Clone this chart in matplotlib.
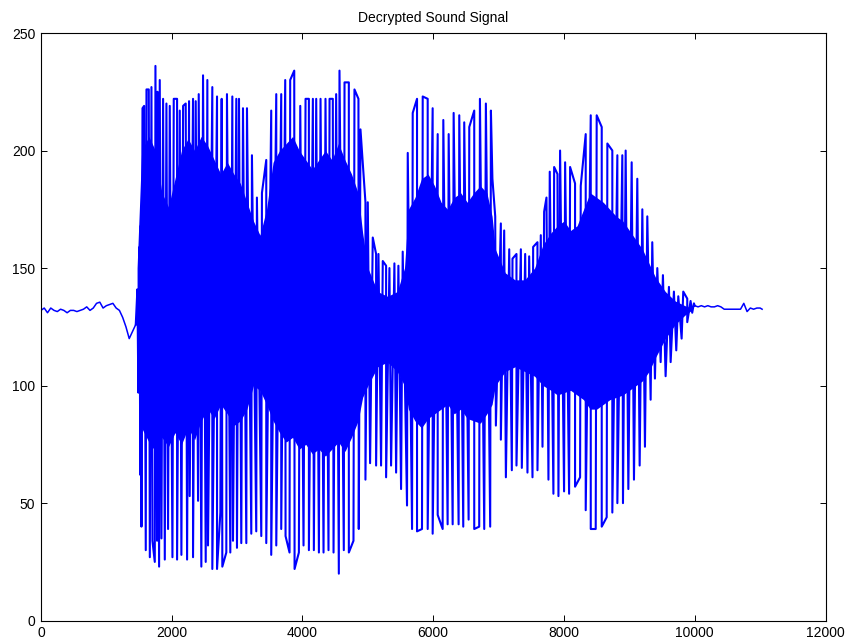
import numpy as np
import matplotlib
matplotlib.use("Agg")
import matplotlib.pyplot as plt

# quiet parts before and after the speech (sample, value)
lead_x = [0, 50, 100, 150, 200, 250, 300, 350, 400, 450, 500, 550, 600, 650, 700,
          750, 800, 850, 900, 950, 1000, 1050, 1100, 1150, 1200, 1250, 1300, 1350,
          1400, 1450]
lead_v = [132, 133, 131, 133, 132, 131.5, 132.5, 132, 131, 132, 132, 131.5, 132,
          132.5, 133.5, 132, 133, 135, 135.5, 133, 134, 134.5, 135, 133, 132, 129,
          125, 120, 123, 126]
tail_x = [10000, 10050, 10100, 10150, 10200, 10250, 10300, 10350, 10400, 10450,
          10500, 10550, 10600, 10650, 10700, 10750, 10800, 10850, 10900, 10950,
          11000, 11030]
tail_v = [134, 133.5, 134, 133.5, 134, 133.5, 133.5, 134, 133.5, 132.5, 132.5,
          132.5, 132.5, 132.5, 132.5, 135, 131.5, 133, 132.5, 133, 133, 132.5]

# upper peaks of each pitch period (sample, value)
top_x = [1475, 1505, 1525, 1553, 1578, 1614, 1649, 1690, 1751, 1782, 1817, 1868,
         1919, 1970, 2031, 2082, 2123, 2174, 2214, 2265, 2326, 2367, 2413, 2479,
         2545, 2621, 2693, 2764, 2845, 2927, 2988, 3029, 3090, 3151, 3227, 3303,
         3380, 3446, 3522, 3599, 3675, 3736, 3812, 3874, 3966, 4047, 4098, 4159,
         4210, 4276, 4352, 4414, 4464, 4515, 4566, 4643, 4709, 4795, 4856, 4887,
         4963, 4999, 5075, 5126, 5162, 5228, 5279, 5330, 5406, 5467, 5533, 5610,
         5686, 5752, 5839, 5915, 5991, 6068, 6154, 6236, 6312, 6398, 6474, 6551,
         6627, 6714, 6805, 6882, 6905, 6948, 7034, 7085, 7162, 7212, 7273, 7340,
         7406, 7467, 7528, 7594, 7645, 7696, 7732, 7782, 7849, 7900, 7940, 8017,
         8093, 8169, 8256, 8332, 8409, 8500, 8577, 8663, 8739, 8816, 8892, 8943,
         9035, 9121, 9198, 9274, 9350, 9427, 9513, 9605, 9681, 9748, 9824, 9885,
         9936, 9987]
top_v = [141, 159, 168, 218, 219, 226, 226, 227, 236, 225, 230, 222,
         220, 219, 222, 222, 217, 219, 220, 221, 222, 221, 224, 232,
         230, 227, 223, 222, 224, 223, 222, 222, 218, 218, 198, 180,
         182, 196, 217, 224, 224, 230, 230, 234, 219, 222, 222, 222,
         222, 222, 222, 222, 222, 224, 234, 229, 229, 226, 222, 209,
         178, 178, 163, 156, 156, 153, 151, 150, 152, 151, 157, 199,
         216, 222, 223, 222, 218, 207, 213, 207, 216, 215, 212, 210,
         217, 222, 220, 217, 188, 172, 169, 166, 158, 154, 156, 158,
         156, 155, 159, 161, 164, 174, 180, 191, 193, 190, 200, 195,
         193, 186, 185, 207, 215, 215, 210, 203, 200, 198, 198, 200,
         195, 188, 175, 172, 161, 150, 147, 142, 140, 138, 140, 137,
         136, 135]

# lower peaks of each pitch period (sample, value)
bot_x = [1490, 1520, 1537, 1603, 1665, 1705, 1741, 1776, 1807, 1843, 1894, 1944,
         2011, 2082, 2148, 2235, 2275, 2326, 2403, 2453, 2520, 2555, 2621, 2693,
         2744, 2774, 2835, 2896, 2937, 2998, 3064, 3141, 3217, 3293, 3370, 3446,
         3522, 3599, 3675, 3741, 3802, 3879, 3945, 4016, 4098, 4174, 4251, 4322,
         4398, 4475, 4556, 4632, 4709, 4780, 4861, 4963, 5034, 5126, 5202, 5279,
         5355, 5432, 5508, 5599, 5676, 5752, 5828, 5915, 5991, 6068, 6144, 6220,
         6297, 6388, 6459, 6541, 6627, 6703, 6780, 6871, 6958, 7034, 7111, 7202,
         7273, 7355, 7441, 7518, 7594, 7671, 7762, 7838, 7915, 8001, 8078, 8169,
         8246, 8332, 8409, 8485, 8577, 8653, 8739, 8816, 8902, 8984, 9070, 9157,
         9238, 9325, 9391, 9478, 9554, 9631, 9717, 9799, 9885, 9961]
bot_v = [97, 62, 40, 30, 27, 34, 25, 34, 23, 35, 26, 39,
         27, 26, 28, 26, 53, 27, 51, 23, 25, 32, 22, 22,
         46, 23, 29, 29, 34, 31, 33, 33, 37, 38, 36, 33,
         28, 32, 39, 36, 29, 22, 29, 32, 30, 30, 29, 29,
         30, 29, 20, 30, 29, 34, 39, 60, 67, 66, 66, 61,
         66, 63, 56, 49, 39, 38, 39, 39, 37, 45, 39, 41,
         41, 41, 40, 43, 39, 40, 39, 40, 83, 77, 61, 64,
         66, 65, 63, 61, 64, 74, 60, 54, 53, 55, 54, 57,
         61, 47, 39, 39, 40, 44, 46, 50, 50, 56, 60, 66,
         74, 94, 103, 110, 104, 110, 115, 120, 127, 131]

# edges of the dense middle band of the voiced parts (sample, upper, lower)
band_x = [1470, 1540, 1650, 1750, 1850, 1950, 2050, 2150, 2250, 2350, 2450, 2550,
          2650, 2750, 2850, 2950, 3050, 3150, 3250, 3350, 3450, 3550, 3650, 3750,
          3850, 3950, 4050, 4150, 4250, 4350, 4450, 4550, 4650, 4750, 4850, 4920,
          5000, 5150, 5300, 5450, 5560, 5620, 5720, 5820, 5920, 6020, 6120, 6220,
          6320, 6420, 6520, 6620, 6720, 6820, 6900, 6950, 7100, 7250, 7400, 7550,
          7680, 7800, 7900, 8000, 8100, 8200, 8300, 8400, 8500, 8600, 8700, 8800,
          8900, 9000, 9100, 9200, 9300, 9400, 9550, 9700, 9850, 9950]
band_hi = [150, 200, 206, 200, 182, 176, 188, 200, 205, 200, 206, 202,
           196, 190, 195, 190, 186, 178, 170, 164, 175, 195, 200, 203,
           206, 200, 196, 192, 196, 200, 196, 203, 196, 190, 182, 165,
           150, 140, 138, 140, 150, 175, 180, 188, 190, 185, 178, 175,
           180, 182, 178, 182, 185, 182, 172, 158, 148, 145, 145, 150,
           160, 165, 168, 170, 166, 168, 175, 182, 180, 178, 175, 172,
           170, 166, 162, 158, 152, 146, 140, 136, 134, 133]
band_lo = [112, 82, 76, 72, 78, 74, 80, 75, 82, 77, 85, 90,
           86, 92, 88, 83, 85, 90, 100, 98, 92, 85, 80, 76,
           78, 73, 75, 71, 73, 70, 73, 76, 72, 78, 85, 95,
           100, 108, 110, 106, 100, 90, 85, 82, 86, 88, 90, 92,
           88, 90, 86, 85, 84, 88, 92, 100, 106, 108, 106, 104,
           100, 98, 96, 97, 98, 96, 94, 90, 90, 92, 94, 95,
           96, 98, 100, 102, 106, 112, 120, 126, 130, 132]


def build_voiced():
    pk_x = np.array(top_x + bot_x, dtype=float)
    pk_v = np.array(top_v + bot_v, dtype=float)
    order = np.argsort(pk_x, kind="mergesort")
    # join onto the quiet parts so the trace is one continuous signal
    x = np.concatenate([lead_x[-1:], pk_x[order], tail_x[:1]])
    y = np.concatenate([lead_v[-1:], pk_v[order], tail_v[:1]])
    return x, y


def main():
    plt.rcParams["font.family"] = ["Liberation Sans", "DejaVu Sans"]
    fig = plt.figure(figsize=(8.48, 6.41), dpi=100)
    ax = fig.add_axes([0.0483, 0.0317, 0.9252, 0.9168])

    blue = "#0000ff"
    vx, vy = build_voiced()
    ax.fill_between(band_x, band_lo, band_hi, color=blue, linewidth=0)
    ax.plot(vx, vy, color=blue, linewidth=1.5)
    ax.plot(lead_x, lead_v, color=blue, linewidth=1.1)
    ax.plot(tail_x, tail_v, color=blue, linewidth=1.1)

    ax.set_xlim(0, 12000)
    ax.set_ylim(0, 250)
    ax.set_xticks(np.arange(0, 12001, 2000))
    ax.set_yticks(np.arange(0, 251, 50))
    ax.tick_params(direction="in", length=4.5, width=0.7, labelsize=10,
                   top=True, right=True, pad=4)
    for sp in ax.spines.values():
        sp.set_linewidth(0.8)
    ax.set_title("Decrypted Sound Signal", fontsize=10, pad=8)
    fig.savefig("out.png", dpi=100)
    plt.close(fig)


if __name__ == "__main__":
    main()
